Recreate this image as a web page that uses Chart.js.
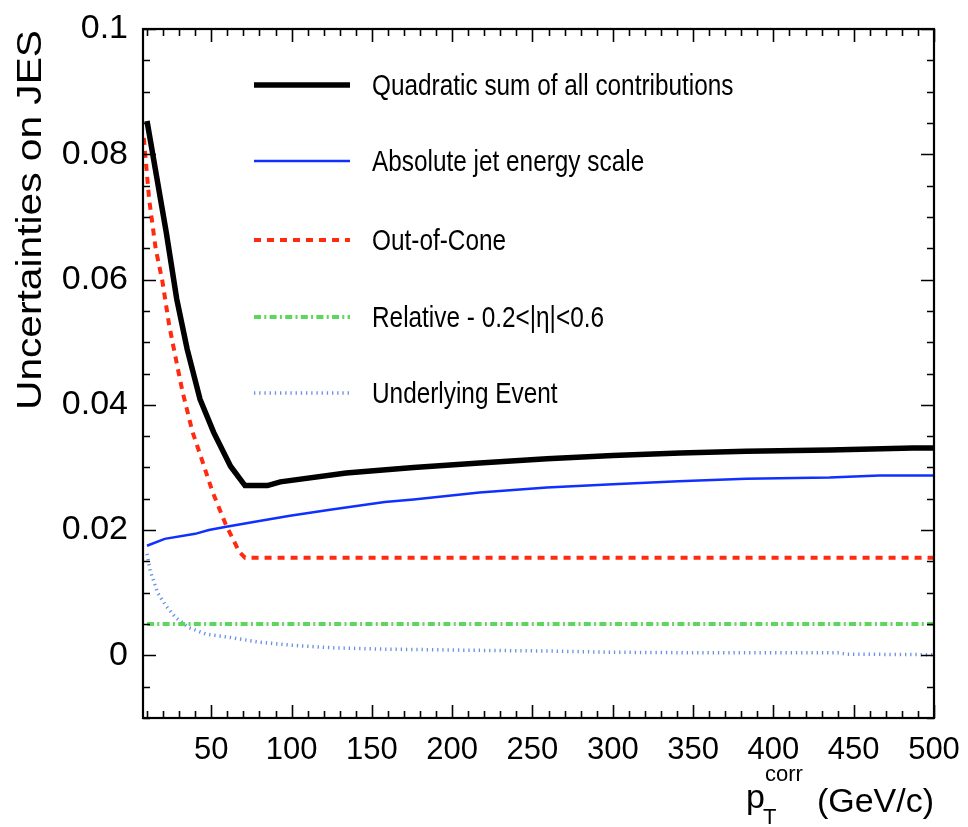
<!DOCTYPE html>
<html><head><meta charset="utf-8">
<script src="https://cdn.jsdelivr.net/npm/chart.js@4.4.1/dist/chart.umd.min.js"></script>
<style>html,body{margin:0;padding:0;background:#fff;}canvas{display:block;}</style>
</head><body>
<canvas id="c" width="968" height="827"></canvas>
<script>
// ---- data ----
const seriesNames = [
  "Quadratic sum of all contributions",
  "Absolute jet energy scale",
  "Out-of-Cone",
  "Relative - 0.2<|\u03b7|<0.6",
  "Underlying Event"
];
const quadX = [10, 22, 28.5, 35, 43, 51.5, 62, 71, 85, 93, 134, 176, 217, 259, 300, 342, 383, 435, 487, 500];
const quadY = [0.0853, 0.0675, 0.0569, 0.0489, 0.0409, 0.0356, 0.0302, 0.0271, 0.0271, 0.0277, 0.0291, 0.0300, 0.0307, 0.0314, 0.0319, 0.0323, 0.0326, 0.0328, 0.0331, 0.0331];
const absX = [10, 21, 40, 48.5, 58.5, 79, 99, 125, 158, 176, 217, 259, 300, 341, 383, 435, 466, 500];
const absY = [0.0175, 0.0186, 0.0194, 0.0200, 0.0205, 0.0214, 0.0223, 0.0233, 0.0245, 0.0249, 0.0260, 0.0268, 0.0273, 0.0278, 0.0282, 0.0284, 0.0287, 0.0287];
const oocX = [8, 11.3, 15.4, 19.6, 23.8, 27.9, 32.1, 38.3, 44.6, 50.8, 59.2, 67.5, 71, 500];
const oocY = [0.0826, 0.0729, 0.0649, 0.0597, 0.0527, 0.0474, 0.0421, 0.0357, 0.0309, 0.0261, 0.0208, 0.0165, 0.0156, 0.0156];
const relX = [10, 500];
const relY = [0.005, 0.005];
const ueX = [10, 12, 16.6, 21.8, 28, 36.3, 46.7, 63.3, 80, 100.8, 125.8, 157, 217, 259, 298, 360, 440, 445, 500];
const ueY = [0.0162, 0.0135, 0.0100, 0.0079, 0.0060, 0.0044, 0.0034, 0.0028, 0.0021, 0.0016, 0.0012, 0.0010, 0.0008, 0.0007, 0.0005, 0.0004, 0.0004, 0.0002, 0.0001];
const xTickValues = [50, 100, 150, 200, 250, 300, 350, 400, 450, 500];
const yTickValues = [0, 0.02, 0.04, 0.06, 0.08, 0.1];
const xRange = [7.5, 500];
const yRange = [-0.01, 0.1];
const xMinorStep = 10, yMinorStep = 0.005;
const yTitle = "Uncertainties on JES";
const xTitleMain = "p", xTitleSub = "T", xTitleSup = "corr", xTitleUnit = "(GeV/c)";

const FONT = "'Liberation Sans', Arial, Helvetica, sans-serif";
const pts = (xs, ys) => xs.map((x, i) => ({x: x, y: ys[i]}));

const styles = [
  {color: '#000000', width: 5.5, dash: []},
  {color: '#1030ff', width: 2.5, dash: []},
  {color: '#ff2a10', width: 4, dash: [7, 6]},
  {color: '#5cd65c', width: 4, dash: [7, 3.3, 2, 3.3]},
  {color: '#6a8fe4', width: 3.5, dash: [1.3, 3.9]}
];
const seriesData = [pts(quadX, quadY), pts(absX, absY), pts(oocX, oocY), pts(relX, relY), pts(ueX, ueY)];

const datasets = seriesNames.map((name, i) => ({
  label: name,
  data: seriesData[i],
  borderColor: styles[i].color,
  backgroundColor: styles[i].color,
  borderWidth: styles[i].width,
  borderDash: styles[i].dash,
  pointRadius: 0,
  tension: 0,
  fill: false,
  borderCapStyle: 'butt',
  borderJoinStyle: 'miter'
}));

const framePlugin = {
  id: 'frameTicks',
  afterDatasetsDraw(chart) {
    const ctx = chart.ctx, a = chart.chartArea;
    const xs = chart.scales.x, ys = chart.scales.y;
    ctx.save();
    ctx.strokeStyle = '#000';
    ctx.lineWidth = 1.6;
    ctx.beginPath();
    for (let v = 10; v <= xRange[1] + 1e-9; v += xMinorStep) {
      const major = xTickValues.some(t => Math.abs(t - v) < 1e-6);
      const len = major ? 13 : 7;
      const px = Math.round(xs.getPixelForValue(v)) + 0.5;
      ctx.moveTo(px, a.bottom); ctx.lineTo(px, a.bottom - len);
      ctx.moveTo(px, a.top); ctx.lineTo(px, a.top + len);
    }
    for (let k = 0; ; k++) {
      const v = yRange[0] + k * yMinorStep;
      if (v > yRange[1] + 1e-9) break;
      const major = yTickValues.some(t => Math.abs(t - v) < 1e-6);
      const len = major ? 13 : 7;
      const py = Math.round(ys.getPixelForValue(v)) + 0.5;
      ctx.moveTo(a.left, py); ctx.lineTo(a.left + len, py);
      ctx.moveTo(a.right, py); ctx.lineTo(a.right - len, py);
    }
    ctx.stroke();
    ctx.lineWidth = 2.2;
    ctx.strokeRect(a.left, a.top, a.right - a.left, a.bottom - a.top);
    ctx.restore();
  },
  afterDraw(chart) {
    const ctx = chart.ctx;
    ctx.save();
    ctx.fillStyle = '#000';
    const rows = [85, 161, 240, 317, 393];
    chart.data.datasets.forEach((ds, i) => {
      const y = rows[i];
      ctx.save();
      ctx.strokeStyle = ds.borderColor;
      ctx.lineWidth = ds.borderWidth;
      ctx.setLineDash(ds.borderDash);
      ctx.lineCap = 'butt';
      ctx.beginPath();
      ctx.moveTo(254, y); ctx.lineTo(350, y);
      ctx.stroke();
      ctx.restore();
      ctx.save();
      ctx.translate(372, y + 10);
      ctx.scale(0.87, 1.05);
      ctx.font = '28px ' + FONT;
      ctx.textBaseline = 'alphabetic';
      ctx.textAlign = 'left';
      ctx.fillText(ds.label, 0, 0);
      ctx.restore();
    });
    ctx.save();
    ctx.translate(41, 410);
    ctx.rotate(-Math.PI / 2);
    ctx.font = '35px ' + FONT;
    const w = ctx.measureText(yTitle).width;
    ctx.scale(380 / w, 1);
    ctx.textAlign = 'left';
    ctx.textBaseline = 'alphabetic';
    ctx.fillText(yTitle, 0, 0);
    ctx.restore();
    ctx.textAlign = 'left';
    ctx.textBaseline = 'alphabetic';
    ctx.font = '34px ' + FONT;
    ctx.fillText(xTitleMain, 746, 808);
    ctx.font = '22px ' + FONT;
    ctx.fillText(xTitleSub, 763, 824);
    ctx.fillText(xTitleSup, 765, 781);
    ctx.font = '34px ' + FONT;
    const uw = ctx.measureText(xTitleUnit).width;
    ctx.fillText(xTitleUnit, 934 - uw, 812);
    ctx.restore();
  }
};

new Chart(document.getElementById('c'), {
  type: 'line',
  data: {datasets: datasets},
  options: {
    responsive: false,
    animation: false,
    devicePixelRatio: 1,
    layout: {padding: {top: 29, right: 34, left: 0, bottom: 0}},
    plugins: {legend: {display: false}, tooltip: {enabled: false}},
    scales: {
      x: {
        type: 'linear',
        min: xRange[0], max: xRange[1],
        grid: {display: false, drawTicks: false},
        border: {display: false},
        afterBuildTicks: s => { s.ticks = xTickValues.map(v => ({value: v})); },
        afterFit: s => { s.height = 109; s.paddingLeft = 0; s.paddingRight = 0; s.paddingTop = 0; s.paddingBottom = 0; },
        ticks: {
          autoSkip: false, maxRotation: 0,
          color: '#000', padding: 14,
          font: {family: FONT, size: 31},
          callback: v => String(v)
        }
      },
      y: {
        type: 'linear',
        min: yRange[0], max: yRange[1],
        grid: {display: false, drawTicks: false},
        border: {display: false},
        afterBuildTicks: s => { s.ticks = yTickValues.map(v => ({value: v})); },
        afterFit: s => { s.width = 143; s.paddingLeft = 0; s.paddingRight = 0; s.paddingTop = 0; s.paddingBottom = 0; },
        ticks: {
          autoSkip: false,
          color: '#000', padding: 15,
          font: {family: FONT, size: 34},
          callback: v => String(v)
        }
      }
    }
  },
  plugins: [framePlugin]
});
</script>
</body></html>
